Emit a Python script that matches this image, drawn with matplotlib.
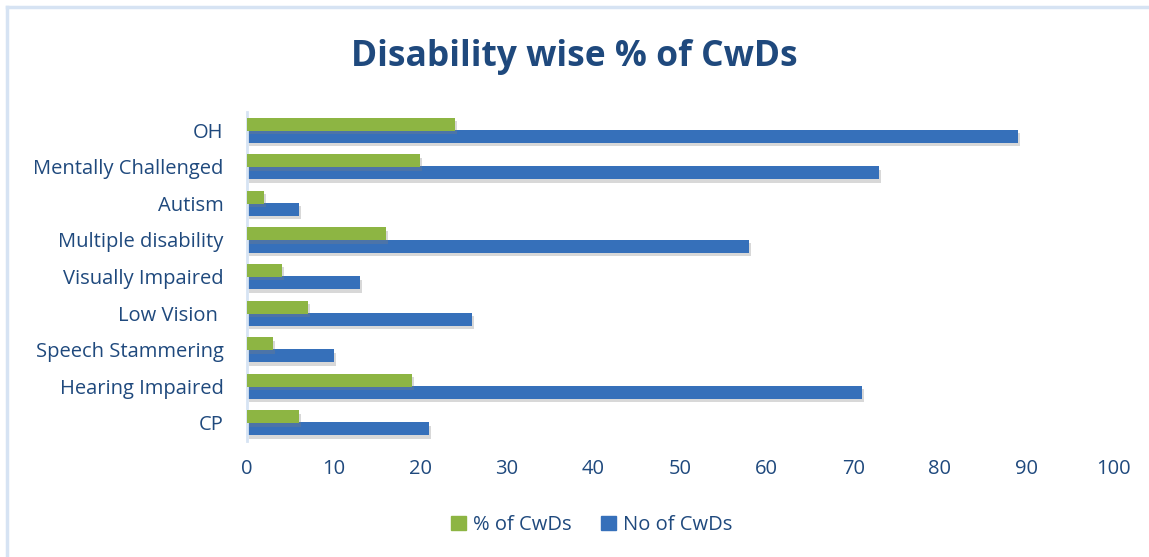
"""Disability wise % of CwDs - horizontal grouped bar chart."""

import matplotlib
matplotlib.use("Agg")
import matplotlib.pyplot as plt
import matplotlib.patheffects as pe
from matplotlib.lines import Line2D

categories = [
    "CP", "Hearing Impaired", "Speech Stammering", "Low Vision ",
    "Visually Impaired", "Multiple disability", "Autism",
    "Mentally Challenged", "OH",
]
pct_cwds = [6, 19, 3, 7, 4, 16, 2, 20, 24]
no_cwds = [21, 71, 10, 26, 13, 58, 6, 73, 89]
xticks = [0, 10, 20, 30, 40, 50, 60, 70, 80, 90, 100]

TEXT = "#1F497D"
GREEN = "#8DB543"
BLUE = "#3670BA"
FRAME = "#D6E3F3"

plt.rcParams["font.family"] = ["Open Sans", "DejaVu Sans"]

fig = plt.figure(figsize=(11.49, 5.57), dpi=100)
ax = fig.add_axes([0.215, 0.208, 0.7537, 0.591])

# light blue frame: only the top and left edges show in the original
fx, fy = 6.5 / 1149, 1 - 6.5 / 557
fig.lines.append(Line2D([fx, fx], [0, fy], transform=fig.transFigure, color=FRAME, lw=2.5))
fig.lines.append(Line2D([fx, 1], [fy, fy], transform=fig.transFigure, color=FRAME, lw=2.5))

pos = list(range(len(categories)))
h = 0.355
off = 0.165
shadow = [pe.SimplePatchShadow(offset=(1.5, -2.5), shadow_rgbFace="#808080", alpha=0.3), pe.Normal()]

gbars = ax.barh([p + off for p in pos], pct_cwds, height=h, color=GREEN, zorder=3)
bbars = ax.barh([p - off for p in pos], no_cwds, height=h, color=BLUE, zorder=2)
for b in list(gbars) + list(bbars):
    b.set_path_effects(shadow)

ax.set_xlim(0, 100)
ax.set_ylim(-0.5, len(categories) - 0.5)
ax.set_xticks(xticks)
ax.set_yticks(pos)
ax.set_yticklabels(categories)
ax.tick_params(axis="both", length=0, labelsize=14.5, labelcolor=TEXT)
ax.tick_params(axis="x", pad=13)
ax.tick_params(axis="y", pad=17)

for s in ["top", "right", "bottom"]:
    ax.spines[s].set_visible(False)
ax.spines["left"].set_color(FRAME)
ax.spines["left"].set_linewidth(2)

fig.text(0.5, 0.897, "Disability wise % of CwDs", ha="center", va="center",
         fontsize=25.5, fontweight="bold", color=TEXT)

handles = [plt.Rectangle((0, 0), 1, 1, color=GREEN), plt.Rectangle((0, 0), 1, 1, color=BLUE)]
leg = fig.legend(handles, ["% of CwDs", "No of CwDs"], loc="center",
                 bbox_to_anchor=(0.515, 0.057), ncol=2, frameon=False,
                 fontsize=14.5, handlelength=0.7, handleheight=0.7,
                 handletextpad=0.35, columnspacing=1.5)
for t in leg.get_texts():
    t.set_color(TEXT)

fig.savefig("out.png", dpi=100)
